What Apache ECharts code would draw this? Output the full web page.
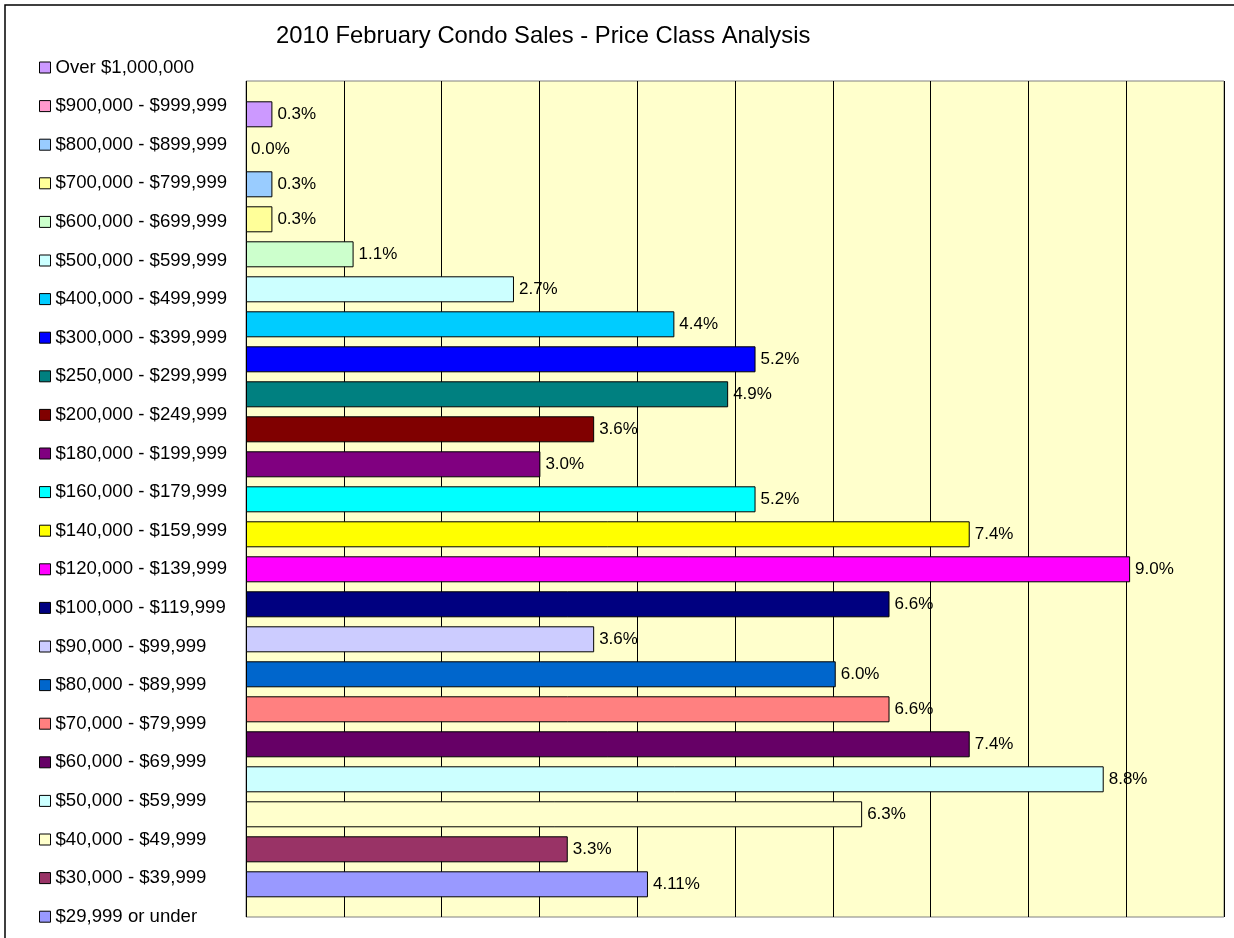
<!DOCTYPE html>
<html>
<head>
<meta charset="utf-8">
<script src="https://cdn.jsdelivr.net/npm/echarts@6/dist/echarts.min.js"></script>
<style>
  html, body { margin: 0; padding: 0; background: #fff; }
  #chart { width: 1234px; height: 938px; }
</style>
</head>
<body>
<div id="chart"></div>
<script>
// Price classes, top to bottom
const categories = [
  'Over $1,000,000', '$900,000 - $999,999', '$800,000 - $899,999', '$700,000 - $799,999',
  '$600,000 - $699,999', '$500,000 - $599,999', '$400,000 - $499,999', '$300,000 - $399,999',
  '$250,000 - $299,999', '$200,000 - $249,999', '$180,000 - $199,999', '$160,000 - $179,999',
  '$140,000 - $159,999', '$120,000 - $139,999', '$100,000 - $119,999', '$90,000 - $99,999',
  '$80,000 - $89,999', '$70,000 - $79,999', '$60,000 - $69,999', '$50,000 - $59,999',
  '$40,000 - $49,999', '$30,000 - $39,999', '$29,999 or under'
];
// Share of sales (%)
const values = [0.27, 0, 0.27, 0.27, 1.10, 2.74, 4.38, 5.21, 4.93, 3.56, 3.01, 5.21,
                7.40, 9.04, 6.58, 3.56, 6.03, 6.58, 7.40, 8.77, 6.30, 3.29, 4.11];
// Data label texts as printed on the chart
const labels = ['0.3%', '0.0%', '0.3%', '0.3%', '1.1%', '2.7%', '4.4%', '5.2%', '4.9%', '3.6%',
                '3.0%', '5.2%', '7.4%', '9.0%', '6.6%', '3.6%', '6.0%', '6.6%', '7.4%', '8.8%',
                '6.3%', '3.3%', '4.11%'];
const colors = ['#CC99FF', '#FF99CC', '#99CCFF', '#FFFF99', '#CCFFCC', '#CCFFFF', '#00CCFF', '#0000FF',
                '#008080', '#800000', '#800080', '#00FFFF', '#FFFF00', '#FF00FF', '#000080', '#CCCCFF',
                '#0066CC', '#FF8080', '#660066', '#CCFFFF', '#FFFFCC', '#993366', '#9999FF'];
const xTicks = [0, 1, 2, 3, 4, 5, 6, 7, 8, 9, 10];

const FONT = '"Liberation Sans", Arial, sans-serif';

const series = categories.map((name, i) => ({
  name: name,
  type: 'bar',
  stack: 'all',
  xAxisIndex: 1,
  yAxisIndex: 1,
  barWidth: 26,
  itemStyle: { color: colors[i], borderColor: '#000', borderWidth: 1 },
  label: {
    show: true, position: 'right', distance: 5,
    formatter: labels[i], color: '#000', fontSize: 17, fontFamily: FONT
  },
  emphasis: { disabled: true },
  data: categories.map((_, j) => {
    if (j !== i) return '-';
    return values[i] === 0
      ? { value: values[i], itemStyle: { borderWidth: 0 } }
      : values[i];
  })
}));

const chart = echarts.init(document.getElementById('chart'), null, { renderer: 'canvas' });
chart.setOption({
  backgroundColor: '#ffffff',
  animation: false,
  title: {
    text: '2010 February Condo Sales - Price Class Analysis',
    left: 276, top: 24, padding: 0,
    textStyle: { fontSize: 23.8, fontWeight: 'normal', color: '#000', fontFamily: FONT }
  },
  legend: {
    orient: 'vertical',
    left: 39, top: 58, padding: 0, height: 879,
    itemWidth: 11, itemHeight: 11, itemGap: 19.6,
    icon: 'rect',
    selectedMode: false,
    itemStyle: { borderColor: '#000', borderWidth: 1 },
    textStyle: { fontSize: 18.6, color: '#000', fontFamily: FONT },
    data: categories
  },
  graphic: [{
    type: 'rect', z: -10, silent: true,
    shape: { x: 5, y: 5, width: 1240, height: 950 },
    style: { fill: 'none', stroke: '#000', lineWidth: 1.5 }
  }],
  grid: [
    { left: 246, top: 81, width: 978, height: 836, show: true,
      backgroundColor: '#FFFFCC', borderColor: '#808080', borderWidth: 1 },
    { left: 246, top: 96.8, width: 978, height: 805, show: false }
  ],
  xAxis: [
    { gridIndex: 0, type: 'value', min: xTicks[0], max: xTicks[xTicks.length - 1], interval: 1,
      axisLine: { show: false }, axisTick: { show: false }, axisLabel: { show: false },
      splitLine: { show: true, lineStyle: { color: '#000', width: 1 } } },
    { gridIndex: 1, type: 'value', min: xTicks[0], max: xTicks[xTicks.length - 1], interval: 1,
      show: false }
  ],
  yAxis: [
    { gridIndex: 0, type: 'category', data: [''], show: false },
    { gridIndex: 1, type: 'category', data: categories, inverse: true, show: false }
  ],
  series: series
});
</script>
</body>
</html>
